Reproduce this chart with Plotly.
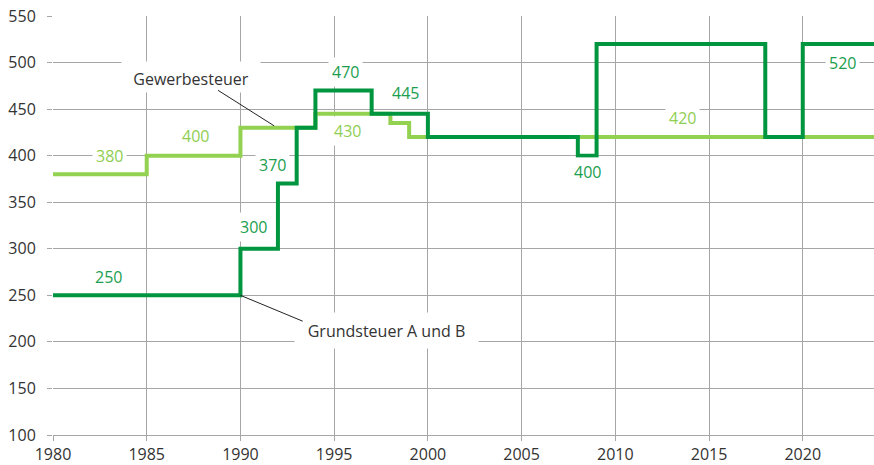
import plotly.graph_objects as go

# Hebesätze (Prozent) – Stufenverläufe ab dem jeweiligen Jahr
gewerbe_years = [1980, 1985, 1990, 1994, 1998, 1999, 2024]
gewerbe_rates = [380, 400, 430, 445, 435, 420, 420]

grund_years = [1980, 1990, 1992, 1993, 1994, 1997, 2000, 2008, 2009, 2018, 2020, 2024]
grund_rates = [250, 300, 370, 430, 470, 445, 420, 400, 520, 420, 520, 520]

x_ticks = [1980, 1985, 1990, 1995, 2000, 2005, 2010, 2015, 2020]
y_ticks = [100, 150, 200, 250, 300, 350, 400, 450, 500, 550]

# value labels: (value, label x, label y)
gewerbe_labels = [(380, 1983.0, 400), (400, 1987.6, 421), (430, 1995.7, 426), (420, 2013.6, 440)]
grund_labels = [(250, 1982.95, 270), (300, 1990.7, 323), (370, 1991.7, 390), (470, 1995.6, 490),
                (445, 1998.8, 467), (400, 2008.5, 382), (520, 2022.1, 500)]

DARK = "#00963F"
LIGHT = "#93D150"
DARK_TXT = "#1A9E4E"
LIGHT_TXT = "#8FCE52"
GRID = "#A6A6A6"
FONT = "Open Sans"
FS = 16

fig = go.Figure()
fig.add_trace(go.Scatter(x=gewerbe_years, y=gewerbe_rates, mode="lines",
                         line=dict(color=LIGHT, width=4, shape="hv"), name="Gewerbesteuer"))
fig.add_trace(go.Scatter(x=grund_years, y=grund_rates, mode="lines",
                         line=dict(color=DARK, width=4, shape="hv"), name="Grundsteuer A und B"))

annotations = []
for val, lx, ly in gewerbe_labels:
    annotations.append(dict(x=lx, y=ly, xref="x", yref="y", text=str(val), showarrow=False,
                            font=dict(family=FONT, size=FS, color=LIGHT_TXT),
                            bgcolor="white", borderpad=3))
for val, lx, ly in grund_labels:
    annotations.append(dict(x=lx, y=ly, xref="x", yref="y", text=str(val), showarrow=False,
                            font=dict(family=FONT, size=FS, color=DARK_TXT),
                            bgcolor="white", borderpad=3))

# series callouts
annotations.append(dict(x=1987.37, y=484.8, xref="x", yref="y", text="Gewerbesteuer",
                        showarrow=False, font=dict(family=FONT, size=FS, color="#333333"),
                        bgcolor="white", borderpad=2, width=134, height=26, valign="bottom"))
annotations.append(dict(x=1997.8, y=212, xref="x", yref="y", text="Grundsteuer A und B",
                        showarrow=False, font=dict(family=FONT, size=FS, color="#333333"),
                        bgcolor="white", borderpad=8, width=167, height=19))
# leader lines (tiny empty boxes so the line starts right at its tail point)
annotations.append(dict(x=1991.8, y=432, ax=1988.78, ay=470.5, xref="x", yref="y",
                        axref="x", ayref="y", text="", showarrow=True, arrowhead=0,
                        font=dict(size=1), borderpad=0,
                        arrowwidth=1, arrowcolor="#222222", standoff=0, startstandoff=0))
annotations.append(dict(x=1990.0, y=250, ax=1993.35, ay=222, xref="x", yref="y",
                        axref="x", ayref="y", text="", showarrow=True, arrowhead=0,
                        font=dict(size=1), borderpad=0,
                        arrowwidth=1, arrowcolor="#222222", standoff=0, startstandoff=0))

fig.update_layout(
    width=874, height=465,
    margin=dict(l=53, r=0, t=16, b=28),
    plot_bgcolor="white", paper_bgcolor="white",
    showlegend=False,
    font=dict(family=FONT, size=FS, color="#333333"),
    annotations=annotations,
)
fig.update_xaxes(range=[1980, 2023.8], tickvals=x_ticks, showgrid=True, gridcolor=GRID,
                 gridwidth=1, zeroline=False, showline=True, linecolor=GRID, linewidth=1,
                 ticks="outside", ticklen=5, tickcolor=GRID,
                 tickfont=dict(family=FONT, size=FS, color="#333333"))
fig.update_yaxes(range=[100, 550], tickvals=y_ticks, showgrid=True, gridcolor=GRID,
                 gridwidth=1, zeroline=False, showline=False,
                 ticks="outside", ticklen=5, tickcolor=GRID, ticklabelstandoff=8,
                 tickfont=dict(family=FONT, size=FS, color="#333333"))

fig.write_html("out.html")
